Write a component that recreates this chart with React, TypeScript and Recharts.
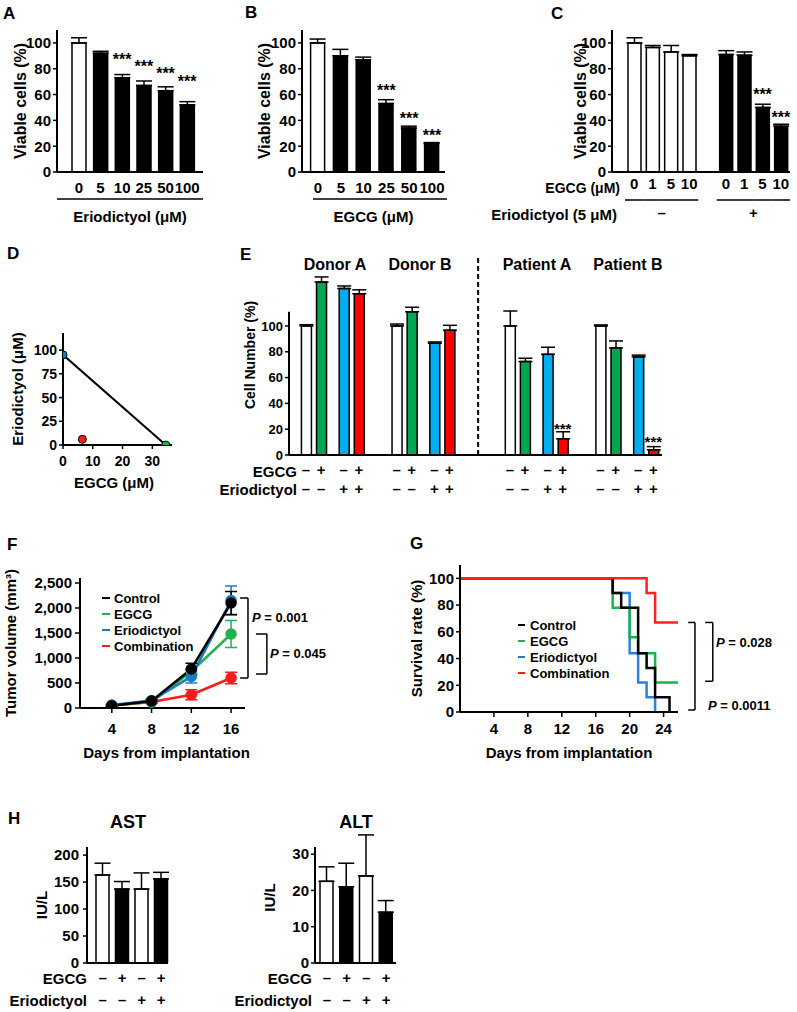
import React from "react";
import {
  ComposedChart,
  LineChart,
  Bar,
  Line,
  Scatter,
  Cell,
  XAxis,
  YAxis,
  ErrorBar,
  ReferenceLine,
  Legend,
} from "recharts";

const FONT = '"Liberation Sans", Arial, Helvetica, sans-serif';
const INK = "#000";

// ---- A: eriodictyol dose response
const doseA = ["0", "5", "10", "25", "50", "100"];
const viableA = [100, 92, 73, 67, 63, 52];
const errA = [4, 1.5, 2.5, 3.5, 3, 2.5];
const starA = [null, null, 89, 84, 78, 72];

// ---- B: EGCG dose response
const doseB = ["0", "5", "10", "25", "50", "100"];
const viableB = [100, 90, 87, 53, 34, 22];
const errB = [3, 5, 2, 3, 1.5, 0.8];
const starB = [null, null, null, 65, 43, 30];

// ---- C: EGCG +/- eriodictyol 5 uM
const doseC = ["0", "1", "5", "10"];
const viableCMinus = [100, 96.5, 93, 90];
const errCMinus = [4, 1.5, 5, 1];
const viableCPlus = [91, 90.5, 50, 35.5];
const errCPlus = [3, 2.5, 2.5, 1.5];
const starCPlus = [null, null, 62, 44];

// ---- D: isobologram
const isoEgcg = [0, 34.5];
const isoErio = [95, 0];
const ptNames = ["Eriodictyol", "EGCG", "Combination"];
const ptEgcg = [0, 34.5, 6.5];
const ptErio = [95, 0, 6];

// ---- E: primary cells
const groupsE = ["Donor A", "Donor B", "Patient A", "Patient B"];
const treatE = ["Control", "EGCG", "Eriodictyol", "Combination"];
const egcgSignE = ["–", "+", "–", "+"];
const erioSignE = ["–", "–", "+", "+"];
const cellDonorA = [100, 134, 129, 125];
const errDonorA = [1, 4, 2, 3];
const cellDonorB = [100, 111, 86.6, 96.7];
const errDonorB = [1.5, 3.5, 1, 3.8];
const cellPatientA = [100, 72.4, 78, 12.6];
const errPatientA = [11.6, 2.6, 5.5, 5.4];
const cellPatientB = [100, 83, 76, 4];
const errPatientB = [0.8, 5.4, 1.4, 2.5];
const starPatientA = [null, null, null, 22];
const starPatientB = [null, null, null, 12];
const noStars = [null, null, null, null];

// ---- F: tumor volume
const daysF = [4, 8, 12, 16];
const volControl = [45, 140, 780, 2100];
const errControl = [15, 25, 115, 230];
const volEgcg = [50, 120, 730, 1480];
const errEgcg = [15, 20, 50, 270];
const volErio = [60, 150, 630, 2150];
const errErio = [20, 25, 130, 290];
const volCombo = [50, 120, 265, 600];
const errCombo = [15, 20, 100, 115];

// ---- G: survival
const survControlDay = [0, 18, 19, 21, 22, 23, 24.7];
const survControl = [100, 89, 78, 44, 33, 11, 0];
const survEgcgDay = [0, 18, 20, 21, 23, 25.7];
const survEgcg = [100, 78, 56, 44, 22, 22];
const survErioDay = [0, 18, 20, 21, 22, 23];
const survErio = [100, 89, 44, 22, 11, 0];
const survComboDay = [0, 22, 23, 25.7];
const survCombo = [100, 89, 67, 67];

// ---- H: liver enzymes
const egcgSignH = ["–", "+", "–", "+"];
const erioSignH = ["–", "–", "+", "+"];
const astVal = [163, 137, 137, 156];
const astErr = [22, 14, 30, 12];
const altVal = [22.5, 21, 24, 14];
const altErr = [4, 6.5, 11.3, 3.2];

// colours
const C_F = { control: "#000", egcg: "#22b14c", erio: "#1f7ac4", combo: "#ff1a1a" };
const C_E: any = { Control: "#fff", EGCG: "#00a651", Eriodictyol: "#00aeef", Combination: "#ff0000" };
const C_D: any = { Eriodictyol: "#1f77c0", EGCG: "#1eb04b", Combination: "#ff1a1a" };

const font = (size: number, extra: any = {}) => ({
  fontFamily: FONT,
  fontWeight: 700,
  fontSize: size,
  fill: INK,
  ...extra,
});
const AX = { stroke: INK, strokeWidth: 2 };
const TL = { stroke: INK, strokeWidth: 1.5 };

const yTitle = (value: string, offset: number, size: number) => ({
  value,
  angle: -90,
  position: "insideLeft",
  offset,
  style: font(size, { textAnchor: "middle" }),
});

const xTitle = (value: string, baseDy: number, size: number, dx = 0, under?: number[]) => ({
  content: ({ viewBox }: any) => (
    <g>
      {under && (
        <line
          x1={viewBox.x + under[1]}
          x2={viewBox.x + viewBox.width + under[2]}
          y1={viewBox.y + under[0]}
          y2={viewBox.y + under[0]}
          stroke={INK}
          strokeWidth={1.5}
        />
      )}
      <text x={viewBox.x + viewBox.width / 2 + dx} y={viewBox.y + baseDy} textAnchor="middle" style={font(size)}>
        {value}
      </text>
    </g>
  ),
});

const starShape = (size: number) => (p: any) =>
  p.payload && p.payload.star != null ? (
    <text x={p.cx} y={p.cy + size * 0.5} textAnchor="middle" style={font(size)}>
      ***
    </text>
  ) : (
    <g />
  );

const bracket = (id: string, xIn: number, xOut: number, yTop: number, yBot: number) => [
  <ReferenceLine key={id + "t"} segment={[{ x: xIn, y: yTop }, { x: xOut, y: yTop }]} stroke={INK} strokeWidth={1.5} ifOverflow="visible" />,
  <ReferenceLine key={id + "v"} segment={[{ x: xOut, y: yTop }, { x: xOut, y: yBot }]} stroke={INK} strokeWidth={1.5} ifOverflow="visible" />,
  <ReferenceLine key={id + "b"} segment={[{ x: xIn, y: yBot }, { x: xOut, y: yBot }]} stroke={INK} strokeWidth={1.5} ifOverflow="visible" />,
];

function Txt({ x, y, size = 15, anchor = "start", children }: any) {
  const w = 300;
  const left = anchor === "start" ? x : anchor === "end" ? x - w : x - w / 2;
  return (
    <div
      style={{
        position: "absolute",
        left,
        top: y - size / 2,
        width: w,
        fontSize: size,
        lineHeight: `${size}px`,
        textAlign: anchor === "start" ? "left" : anchor === "end" ? "right" : "center",
        whiteSpace: "nowrap",
      }}
    >
      {children}
    </div>
  );
}

// ---------- A / B ----------
function DosePanel({ left, width, marginRight, pad, dose, vals, errs, stars, xLabel, titleX, under }: any) {
  const rows = dose.map((d: string, i: number) => ({ dose: d, v: vals[i], e: [0, errs[i]], star: stars[i] }));
  return (
    <div style={{ position: "absolute", left, top: 0 }}>
      <ComposedChart width={width} height={230} data={rows} margin={{ top: 30, right: marginRight, bottom: 0, left: 0 }}>
        <XAxis
          dataKey="dose"
          interval={0}
          padding={pad}
          height={58}
          axisLine={AX}
          tickLine={false}
          tickSize={0}
          tickMargin={10}
          tick={font(15)}
          label={xTitle(xLabel, 49.5, 15, 0, under)}
        />
        <YAxis
          domain={[0, 110]}
          ticks={[0, 20, 40, 60, 80, 100]}
          width={57}
          axisLine={AX}
          tickLine={TL}
          tickSize={4}
          tickMargin={2}
          tick={font(15)}
          label={yTitle("Viable cells (%)", titleX, 16)}
        />
        <Bar dataKey="v" barSize={14} stroke={INK} strokeWidth={1.5} isAnimationActive={false}>
          {rows.map((r: any, i: number) => (
            <Cell key={i} fill={r.dose === "0" ? "#fff" : INK} />
          ))}
          <ErrorBar dataKey="e" width={8} stroke={INK} strokeWidth={1.5} direction="y" isAnimationActive={false} />
        </Bar>
        <Scatter dataKey="star" shape={starShape(16)} isAnimationActive={false} />
      </ComposedChart>
    </div>
  );
}

// ---------- C ----------
const tableC = [
  ...doseC.map((d, i) => ({ key: `m${i}`, dose: d, erio: "–", pos: i, v: viableCMinus[i], e: [0, errCMinus[i]], star: null as any })),
  { key: "gap", dose: "", erio: "", pos: -1, v: null as any, e: null as any, star: null as any },
  ...doseC.map((d, i) => ({ key: `p${i}`, dose: d, erio: "+", pos: i, v: viableCPlus[i], e: [0, errCPlus[i]], star: starCPlus[i] })),
];

function CTick(props: any) {
  const { x, y, payload } = props;
  const r = tableC.find((d) => d.key === payload.value);
  if (!r || !r.dose) return <g />;
  const half = payload.offset || 9.2;
  return (
    <g>
      <text x={x} y={y + 17.4} textAnchor="middle" style={font(15)}>
        {r.dose}
      </text>
      <line x1={x - half} x2={x + half} y1={y + 28} y2={y + 28} stroke={INK} strokeWidth={1.5} />
      {r.pos === 1 && (
        <text x={x + half} y={y + 46} textAnchor="middle" style={font(15)}>
          {r.erio}
        </text>
      )}
    </g>
  );
}

// ---------- D ----------
const isoRows = isoEgcg.map((x, i) => ({ egcg: x, erio: isoErio[i] }));
const ptRows = ptNames.map((n, i) => ({ name: n, egcg: ptEgcg[i], erio: ptErio[i] }));
const dotShape = (p: any) => (
  <circle cx={p.cx} cy={p.cy} r={4} fill={C_D[p.payload.name]} stroke={INK} strokeWidth={1} />
);

// ---------- E ----------
const groupStartE = [0, 12, 27, 39];
const treatOffsetE = [0, 2, 5, 7];
const dividerSlotE = 22.8;
const cellE = [cellDonorA, cellDonorB, cellPatientA, cellPatientB];
const errE = [errDonorA, errDonorB, errPatientA, errPatientB];
const starE = [noStars, noStars, starPatientA, starPatientB];
const tableE = groupsE.flatMap((g, gi) =>
  treatE.map((t, ti) => ({
    slot: groupStartE[gi] + treatOffsetE[ti],
    group: g,
    treat: t,
    v: cellE[gi][ti],
    e: [0, errE[gi][ti]],
    star: starE[gi][ti],
    egcg: egcgSignE[ti],
    erio: erioSignE[ti],
  }))
);

function ETick(props: any) {
  const { x, y, payload } = props;
  const r = tableE.find((d) => d.slot === payload.value);
  if (!r) return <g />;
  return (
    <g>
      <text x={x} y={y + 20} textAnchor="middle" style={font(15)}>
        {r.egcg}
      </text>
      <text x={x} y={y + 39} textAnchor="middle" style={font(15)}>
        {r.erio}
      </text>
    </g>
  );
}

// ---------- F ----------
const tableF = daysF.map((d, i) => ({
  day: d,
  control: volControl[i],
  controlErr: errControl[i],
  egcg: volEgcg[i],
  egcgErr: errEgcg[i],
  erio: volErio[i],
  erioErr: errErio[i],
  combo: volCombo[i],
  comboErr: errCombo[i],
}));
const drawOrderF = [
  { key: "combo", color: C_F.combo },
  { key: "egcg", color: C_F.egcg },
  { key: "erio", color: C_F.erio },
  { key: "control", color: C_F.control },
];
const legendItems = [
  { name: "Control", color: C_F.control },
  { name: "EGCG", color: C_F.egcg },
  { name: "Eriodictyol", color: C_F.erio },
  { name: "Combination", color: C_F.combo },
];

const legendContent = (iconW: number, gap: number) => () => (
  <div style={{ fontFamily: FONT, fontWeight: 700, fontSize: 13, color: INK }}>
    {legendItems.map((it) => (
      <div key={it.name} style={{ display: "flex", alignItems: "center", height: 16 }}>
        <span style={{ display: "inline-block", width: iconW, height: 2.5, background: it.color, marginRight: gap }} />
        <span>{it.name}</span>
      </div>
    ))}
  </div>
);

// ---------- G ----------
const mk = (days: number[], vals: number[]) => days.map((d, i) => ({ day: d, pct: vals[i] }));
const seriesG = [
  { key: "erio", color: "#2a83d8", data: mk(survErioDay, survErio) },
  { key: "egcg", color: "#1db34b", data: mk(survEgcgDay, survEgcg) },
  { key: "control", color: INK, data: mk(survControlDay, survControl) },
  { key: "combo", color: "#ff2020", data: mk(survComboDay, survCombo) },
];

// ---------- H ----------
const mkH = (vals: number[], errs: number[]) =>
  vals.map((v, i) => ({ key: `h${i}`, v, e: [0, errs[i]], egcg: egcgSignH[i], erio: erioSignH[i] }));
const tableAST = mkH(astVal, astErr);
const tableALT = mkH(altVal, altErr);

const hTick = (rows: any[]) => (props: any) => {
  const { x, y, payload } = props;
  const r = rows.find((d) => d.key === payload.value);
  if (!r) return <g />;
  return (
    <g>
      <text x={x} y={y + 20} textAnchor="middle" style={font(15)}>
        {r.egcg}
      </text>
      <text x={x} y={y + 42} textAnchor="middle" style={font(15)}>
        {r.erio}
      </text>
    </g>
  );
};

export default function App() {
  return (
    <div
      style={{
        position: "absolute",
        left: 0,
        top: 0,
        width: 797,
        height: 1012,
        overflow: "hidden",
        background: "#fff",
        fontFamily: FONT,
        fontWeight: 700,
        color: INK,
      }}
    >
      {/* A */}
      <DosePanel left={0} width={215} marginRight={12} pad={{ left: 11, right: 5 }} dose={doseA} vals={viableA} errs={errA} stars={starA} xLabel="Eriodictyol (μM)" titleX={20} under={[27, 0, 0]} />
      {/* B */}
      <DosePanel left={245} width={210} marginRight={10} pad={{ left: 4.6, right: 1.6 }} dose={doseB} vals={viableB} errs={errB} stars={starB} xLabel="EGCG (μM)" titleX={19} under={[27, 11, 2]} />

      {/* C */}
      <div style={{ position: "absolute", left: 555, top: 0 }}>
        <ComposedChart width={242} height={230} data={tableC} margin={{ top: 30, right: 7, bottom: 0, left: 0 }}>
          <XAxis dataKey="key" interval={0} padding={{ left: 13, right: 0 }} height={58} axisLine={AX} tickLine={false} tickSize={0} tickMargin={0} tick={CTick} />
          <YAxis domain={[0, 110]} ticks={[0, 20, 40, 60, 80, 100]} width={57} axisLine={AX} tickLine={TL} tickSize={4} tickMargin={2} tick={font(15)} label={yTitle("Viable cells (%)", 25, 16)} />
          <Bar dataKey="v" barSize={13} stroke={INK} strokeWidth={1.5} isAnimationActive={false}>
            {tableC.map((r, i) => (
              <Cell key={i} fill={r.erio === "+" ? INK : "#fff"} />
            ))}
            <ErrorBar dataKey="e" width={8} stroke={INK} strokeWidth={1.5} direction="y" isAnimationActive={false} />
          </Bar>
          <Scatter dataKey="star" shape={starShape(16)} isAnimationActive={false} />
        </ComposedChart>
      </div>
      <Txt x={620} y={188} size={14} anchor="end">EGCG (μM)</Txt>
      <Txt x={617} y={214} anchor="end">Eriodictyol (5 μM)</Txt>

      {/* D */}
      <div style={{ position: "absolute", left: 0, top: 320 }}>
        <ComposedChart width={185} height={180} margin={{ top: 13, right: 13, bottom: 0, left: 0 }}>
          <XAxis dataKey="egcg" type="number" domain={[0, 36.6]} ticks={[0, 10, 20, 30]} allowDataOverflow height={55} axisLine={AX} tickLine={TL} tickSize={4} tickMargin={7} tick={font(14)} label={xTitle("EGCG (μM)", 43.4, 15, -3.5)} />
          <YAxis type="number" domain={[0, 118]} ticks={[0, 25, 50, 75, 100]} allowDataOverflow width={63} axisLine={AX} tickLine={TL} tickSize={4} tickMargin={2} tick={font(14)} label={yTitle("Eriodictyol (μM)", 18, 15)} />
          <Line data={isoRows} dataKey="erio" stroke={INK} strokeWidth={2} dot={false} isAnimationActive={false} />
          <Scatter data={ptRows} dataKey="erio" shape={dotShape} isAnimationActive={false} />
        </ComposedChart>
      </div>

      {/* E */}
      <div style={{ position: "absolute", left: 200, top: 240 }}>
        <ComposedChart width={470} height={260} data={tableE} margin={{ top: 15, right: 8, bottom: 0, left: 0 }}>
          <XAxis dataKey="slot" type="number" domain={[-2.25, 47.15]} allowDataOverflow ticks={tableE.map((r) => r.slot)} interval={0} height={45} axisLine={AX} tickLine={false} tickSize={0} tickMargin={0} tick={ETick} />
          <YAxis domain={[0, 155]} ticks={[0, 20, 40, 60, 80, 100]} allowDataOverflow width={89} axisLine={false} tickLine={TL} tickSize={4} tickMargin={2} tick={font(13)} label={yTitle("Cell Number (%)", 50, 14)} />
          <ReferenceLine segment={[{ x: -2.25, y: 0 }, { x: -2.25, y: 111 }]} stroke={INK} strokeWidth={2} ifOverflow="visible" />
          <ReferenceLine x={dividerSlotE} stroke={INK} strokeWidth={2} strokeDasharray="5 3" ifOverflow="visible" />
          <Bar dataKey="v" barSize={10} stroke={INK} strokeWidth={1.5} isAnimationActive={false}>
            {tableE.map((r, i) => (
              <Cell key={i} fill={C_E[r.treat]} />
            ))}
            <ErrorBar dataKey="e" width={7} stroke={INK} strokeWidth={1.5} direction="y" isAnimationActive={false} />
          </Bar>
          <Scatter dataKey="star" shape={starShape(15)} isAnimationActive={false} />
        </ComposedChart>
      </div>
      {groupsE.map((g, i) => (
        <Txt key={g} x={[335, 420, 537, 628][i]} y={265} size={16} anchor="middle">
          {g}
        </Txt>
      ))}
      <Txt x={297} y={471} anchor="end">EGCG</Txt>
      <Txt x={297} y={489} anchor="end">Eriodictyol</Txt>

      {/* F */}
      <div style={{ position: "absolute", left: 0, top: 560 }}>
        <ComposedChart width={330} height={210} data={tableF} margin={{ top: 18, right: 85, bottom: 0, left: 0 }}>
          <XAxis dataKey="day" type="number" domain={[0.8, 17.4]} ticks={daysF} allowDataOverflow height={62} axisLine={AX} tickLine={TL} tickSize={5} tickMargin={10} tick={font(15)} label={xTitle("Days from implantation", 50.4, 15, 4)} />
          <YAxis domain={[0, 2600]} ticks={[0, 500, 1000, 1500, 2000, 2500]} allowDataOverflow tickFormatter={(v: number) => v.toLocaleString("en-US")} width={80} axisLine={AX} tickLine={TL} tickSize={5} tickMargin={3} tick={font(15)} label={yTitle("Tumor volume (mm³)", 11, 15)} />
          <Legend layout="vertical" align="center" verticalAlign="middle" content={legendContent(8, 4)} wrapperStyle={{ left: 102, top: 30, width: 110 }} />
          {drawOrderF.map((s) => (
            <Line key={s.key} dataKey={s.key} stroke={s.color} strokeWidth={2.5} dot={{ r: 4.5, fill: s.color, stroke: s.color }} isAnimationActive={false}>
              <ErrorBar dataKey={s.key + "Err"} width={6} stroke={s.color} strokeWidth={1.5} direction="y" isAnimationActive={false} />
            </Line>
          ))}
          {bracket("f1", 16.9, 17.7, 2200, 600)}
          {bracket("f2", 18.5, 19.6, 1480, 680)}
        </ComposedChart>
      </div>
      <Txt x={252} y={617} size={13}>
        <i>P</i> = 0.001
      </Txt>
      <Txt x={270} y={653} size={13}>
        <i>P</i> = 0.045
      </Txt>

      {/* G */}
      <div style={{ position: "absolute", left: 400, top: 555 }}>
        <LineChart width={397} height={215} margin={{ top: 10, right: 119, bottom: 0, left: 0 }}>
          <XAxis dataKey="day" type="number" domain={[0, 25.7]} ticks={[4, 8, 12, 16, 20, 24]} allowDataOverflow height={58} axisLine={AX} tickLine={TL} tickSize={5} tickMargin={6} tick={font(15)} label={xTitle("Days from implantation", 46.4, 15)} />
          <YAxis domain={[0, 110]} ticks={[0, 20, 40, 60, 80, 100]} allowDataOverflow width={60} axisLine={AX} tickLine={TL} tickSize={4} tickMargin={2} tick={font(15)} label={yTitle("Survival rate (%)", 17, 15)} />
          <Legend layout="vertical" align="center" verticalAlign="middle" content={legendContent(7, 5)} wrapperStyle={{ left: 118, top: 62, width: 110 }} />
          {seriesG.map((s) => (
            <Line key={s.key} data={s.data} dataKey="pct" type="stepAfter" stroke={s.color} strokeWidth={2.5} dot={false} isAnimationActive={false} />
          ))}
          {bracket("g1", 26.9, 27.7, 67, 1.5)}
          {bracket("g2", 28.9, 29.8, 67, 23)}
        </LineChart>
      </div>
      <Txt x={716} y={642} size={13}>
        <i>P</i> = 0.028
      </Txt>
      <Txt x={708} y={705} size={13}>
        <i>P</i> = 0.0011
      </Txt>

      {/* H: AST */}
      <div style={{ position: "absolute", left: 0, top: 835 }}>
        <ComposedChart width={180} height={177} data={tableAST} margin={{ top: 12, right: 12, bottom: 0, left: 0 }}>
          <XAxis dataKey="key" interval={0} padding={{ left: 6, right: -3 }} height={49} axisLine={AX} tickLine={false} tickSize={0} tickMargin={0} tick={hTick(tableAST)} />
          <YAxis domain={[0, 215]} ticks={[0, 50, 100, 150, 200]} allowDataOverflow width={87} axisLine={AX} tickLine={TL} tickSize={4} tickMargin={4} tick={font(15)} label={yTitle("IU/L", 42, 15)} />
          <Bar dataKey="v" barSize={13} stroke={INK} strokeWidth={1.5} isAnimationActive={false}>
            {tableAST.map((r, i) => (
              <Cell key={i} fill={r.egcg === "+" ? INK : "#fff"} />
            ))}
            <ErrorBar dataKey="e" width={8} stroke={INK} strokeWidth={1.5} direction="y" isAnimationActive={false} />
          </Bar>
        </ComposedChart>
      </div>

      {/* H: ALT */}
      <div style={{ position: "absolute", left: 230, top: 820 }}>
        <ComposedChart width={180} height={192} data={tableALT} margin={{ top: 12, right: 14, bottom: 0, left: 0 }}>
          <XAxis dataKey="key" interval={0} padding={{ left: 2, right: 0 }} height={49} axisLine={AX} tickLine={false} tickSize={0} tickMargin={0} tick={hTick(tableALT)} />
          <XAxis xAxisId="n" type="number" domain={[0, 1]} allowDataOverflow hide />
          <YAxis domain={[0, 36.1]} ticks={[0, 10, 20, 30]} allowDataOverflow width={85} axisLine={false} tickLine={TL} tickSize={4} tickMargin={2} tick={font(15)} label={yTitle("IU/L", 40, 15)} />
          <ReferenceLine xAxisId="n" segment={[{ x: 0, y: 0 }, { x: 0, y: 32 }]} stroke={INK} strokeWidth={2} ifOverflow="visible" />
          <Bar dataKey="v" barSize={13} stroke={INK} strokeWidth={1.5} isAnimationActive={false}>
            {tableALT.map((r, i) => (
              <Cell key={i} fill={r.egcg === "+" ? INK : "#fff"} />
            ))}
            <ErrorBar dataKey="e" width={8} stroke={INK} strokeWidth={1.5} direction="y" isAnimationActive={false} />
          </Bar>
        </ComposedChart>
      </div>

      <Txt x={128} y={822} size={18} anchor="middle">AST</Txt>
      <Txt x={356} y={822} size={18} anchor="middle">ALT</Txt>
      <Txt x={87} y={978} anchor="end">EGCG</Txt>
      <Txt x={87} y={1000} anchor="end">Eriodictyol</Txt>
      <Txt x={312} y={978} anchor="end">EGCG</Txt>
      <Txt x={312} y={1000} anchor="end">Eriodictyol</Txt>

      {/* panel letters */}
      <Txt x={3} y={13} size={17}>A</Txt>
      <Txt x={245} y={12} size={17}>B</Txt>
      <Txt x={551} y={13} size={17}>C</Txt>
      <Txt x={7} y={253} size={17}>D</Txt>
      <Txt x={240} y={254} size={17}>E</Txt>
      <Txt x={7} y={544} size={17}>F</Txt>
      <Txt x={410} y={543} size={17}>G</Txt>
      <Txt x={8} y={818} size={17}>H</Txt>
    </div>
  );
}
